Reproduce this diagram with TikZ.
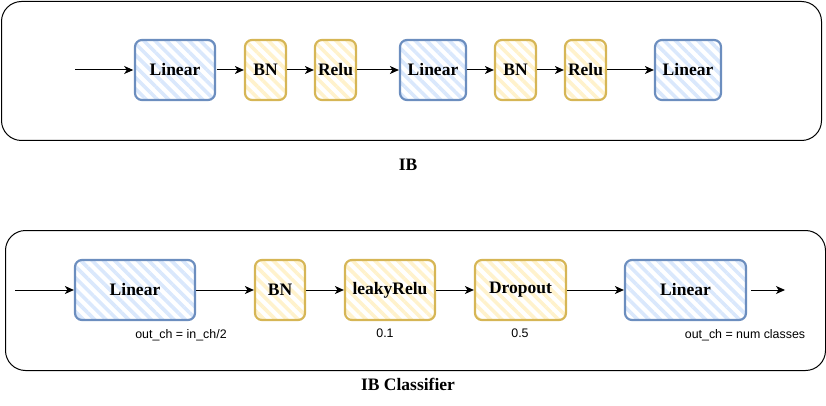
\documentclass[tikz,border=0pt]{standalone}
\usepackage{fontspec}
\setmainfont{Liberation Serif}
\newfontfamily\lblfont{Liberation Sans}
\usetikzlibrary{arrows.meta,patterns.meta}
\definecolor{bstroke}{HTML}{6C8EBF}
\definecolor{bfill}{HTML}{DAE8FC}
\definecolor{ystroke}{HTML}{D6B656}
\definecolor{yfill}{HTML}{FFF2CC}
\tikzset{
  x=1pt, y=1pt,
  container/.style={draw=black, line width=1pt, rounded corners=20pt},
  layer/.style={line width=2.2pt, rounded corners=7pt, minimum height=60pt, inner sep=0pt,
    font=\fontsize{17.5}{19}\selectfont\bfseries},
  bluebox/.style={layer, draw=bstroke,
    pattern={Lines[angle=-45,distance=8pt,line width=3.6pt]}, pattern color=bfill},
  yellowbox/.style={layer, draw=ystroke,
    pattern={Lines[angle=-45,distance=8pt,line width=3.6pt]}, pattern color=yfill},
  conn/.style={draw=black, line width=1pt, -{Stealth[length=9pt,width=8pt,inset=2.5pt]}},
  title/.style={font=\fontsize{17.5}{19}\selectfont\bfseries},
  note/.style={font=\lblfont\fontsize{12.4}{14}\selectfont}
}
\begin{document}
\begin{tikzpicture}
\useasboundingbox (0,0) rectangle (826,-406);

% ---------------- IB ----------------
\node[container, minimum width=820pt, minimum height=139pt, anchor=north west] (ibbox) at (1,-1) {};
\node[title] (iblabel) at (408,-165) {IB};

\coordinate (in1) at (75,-70);
\node[bluebox, minimum width=80pt] (lin1) at (175,-70) {Linear};
\node[yellowbox, minimum width=41pt] (bn1) at (265.5,-70) {BN};
\node[yellowbox, minimum width=41pt] (relu1) at (335.5,-70) {Relu};
\node[bluebox, minimum width=66pt] (lin2) at (433,-70) {Linear};
\node[yellowbox, minimum width=41pt] (bn2) at (515.5,-70) {BN};
\node[yellowbox, minimum width=41pt] (relu2) at (585.5,-70) {Relu};
\node[bluebox, minimum width=66pt] (lin3) at (688,-70) {Linear};

\draw[conn] (in1) -- (lin1);
\draw[conn] (lin1) -- (bn1);
\draw[conn] (bn1) -- (relu1);
\draw[conn] (relu1) -- (lin2);
\draw[conn] (lin2) -- (bn2);
\draw[conn] (bn2) -- (relu2);
\draw[conn] (relu2) -- (lin3);

% ---------------- IB Classifier ----------------
\node[container, minimum width=820pt, minimum height=140pt, anchor=north west] (clsbox) at (5,-230) {};
\node[title] (clslabel) at (408,-384) {IB Classifier};

\coordinate (in2) at (15,-290);
\coordinate (out2) at (785,-290);
\node[bluebox, minimum width=120pt] (clin1) at (135,-290) {Linear};
\node[yellowbox, minimum width=50pt] (cbn) at (280,-290) {BN};
\node[yellowbox, minimum width=90pt] (cleaky) at (390,-290) {leakyRelu};
\node[yellowbox, minimum width=91pt] (cdrop) at (520.5,-290) {Dropout};
\node[bluebox, minimum width=121pt] (clin2) at (685.5,-290) {Linear};

\draw[conn] (in2) -- (clin1);
\draw[conn] (clin1) -- (cbn);
\draw[conn] (cbn) -- (cleaky);
\draw[conn] (cleaky) -- (cdrop);
\draw[conn] (cdrop) -- (clin2);
\draw[conn] ([xshift=4pt]clin2.east) -- (out2);

\node[note] (n1) at (181,-335) {out\_ch = in\_ch/2};
\node[note] (n2) at (385,-333) {0.1};
\node[note] (n3) at (520,-333) {0.5};
\node[note] (n4) at (745,-335) {out\_ch = num classes};
\end{tikzpicture}
\end{document}
